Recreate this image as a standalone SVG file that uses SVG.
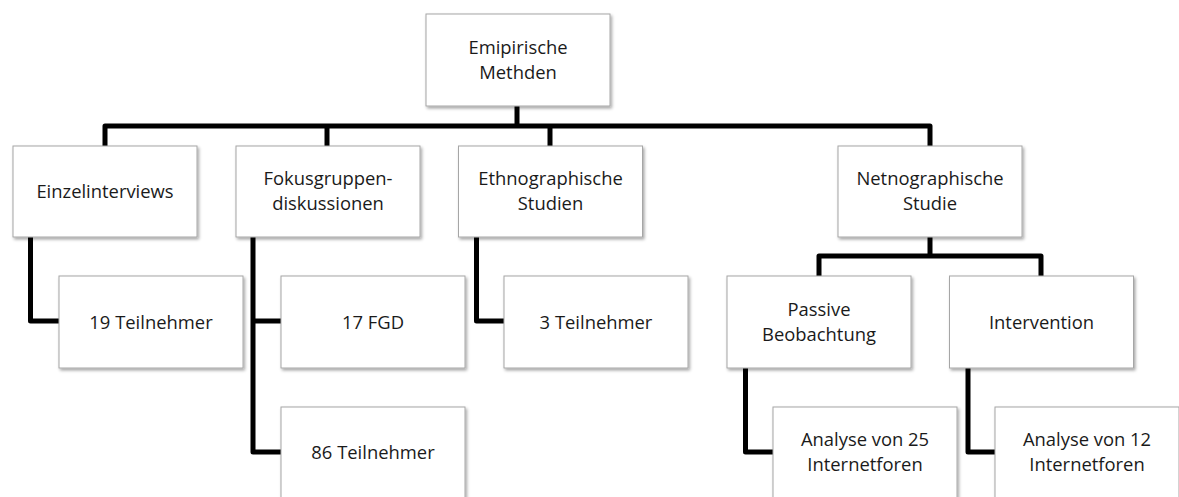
<svg xmlns="http://www.w3.org/2000/svg" width="1179" height="497" viewBox="0 0 1179 497">
<defs>
<filter id="sh" x="-10%" y="-10%" width="130%" height="130%">
<feDropShadow dx="1.5" dy="2" stdDeviation="1.5" flood-color="#000" flood-opacity="0.35"/>
</filter>
<style>
.box{fill:#fff;stroke:#a6a6a6;stroke-width:1;filter:url(#sh)}
.t{font-family:"Open Sans","Liberation Sans",sans-serif;font-size:18.4px;fill:#1a1a1a;text-anchor:middle}
.c{fill:none;stroke:#000;stroke-width:5;stroke-linejoin:round}
</style>
</defs>
<rect width="1179" height="497" fill="#fff"/>
<g id="connectors">
<path class="c" d="M517,106 V126"/>
<path class="c" d="M105,146 V126 H930 V146"/>
<path class="c" d="M327,126 V146"/>
<path class="c" d="M550,126 V146"/>
<path class="c" d="M30.5,237 V321 H59"/>
<path class="c" d="M253,237 V452 H281"/>
<path class="c" d="M253,321 H281"/>
<path class="c" d="M476.5,237 V321 H504"/>
<path class="c" d="M930,237 V256"/>
<path class="c" d="M819,276 V256 H1041 V276"/>
<path class="c" d="M745.5,368 V452 H773"/>
<path class="c" d="M968,368 V452 H995"/>
</g>
<g id="root"><rect class="box" x="426" y="14" width="184" height="92"/><text class="t" x="518" y="53.5">Emipirische</text><text class="t" x="518" y="78.6">Methden</text></g>
<g id="einzel"><rect class="box" x="13" y="146" width="184" height="91"/><text class="t" x="105" y="198">Einzelinterviews</text></g>
<g id="fokus"><rect class="box" x="236" y="146" width="184" height="91"/><text class="t" x="328" y="184.5">Fokusgruppen-</text><text class="t" x="328" y="209.6">diskussionen</text></g>
<g id="ethno"><rect class="box" x="458.5" y="146" width="184" height="91"/><text class="t" x="550.5" y="184.5">Ethnographische</text><text class="t" x="550.5" y="209.6">Studien</text></g>
<g id="netno"><rect class="box" x="838" y="146" width="184" height="91"/><text class="t" x="930" y="184.5">Netnographische</text><text class="t" x="930" y="209.6">Studie</text></g>
<g id="t19"><rect class="box" x="59" y="276" width="184" height="92"/><text class="t" x="151" y="329">19 Teilnehmer</text></g>
<g id="fgd17"><rect class="box" x="281" y="276" width="184" height="92"/><text class="t" x="373" y="329">17 FGD</text></g>
<g id="t3"><rect class="box" x="504" y="276" width="184" height="92"/><text class="t" x="596" y="329">3 Teilnehmer</text></g>
<g id="passive"><rect class="box" x="727" y="276" width="184" height="92"/><text class="t" x="819" y="315.5">Passive</text><text class="t" x="819" y="340.6">Beobachtung</text></g>
<g id="intervention"><rect class="box" x="949.5" y="276" width="184" height="92"/><text class="t" x="1041.5" y="329">Intervention</text></g>
<g id="t86"><rect class="box" x="281" y="407" width="184" height="92"/><text class="t" x="373" y="459">86 Teilnehmer</text></g>
<g id="a25"><rect class="box" x="773" y="407" width="184" height="92"/><text class="t" x="865" y="445.5">Analyse von 25</text><text class="t" x="865" y="470.6">Internetforen</text></g>
<g id="a12"><rect class="box" x="995" y="407" width="184" height="92"/><text class="t" x="1087" y="445.5">Analyse von 12</text><text class="t" x="1087" y="470.6">Internetforen</text></g>
</svg>
